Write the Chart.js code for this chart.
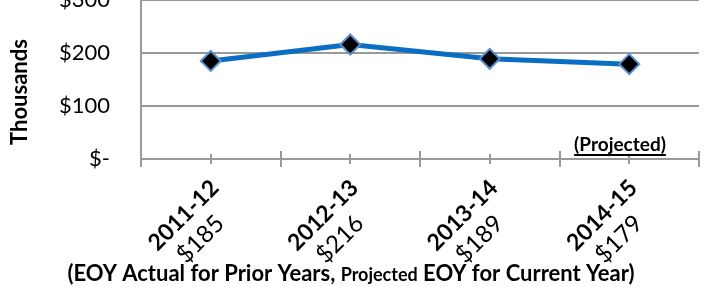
<!DOCTYPE html>
<html>
<head>
<meta charset="utf-8">
<script src="https://cdn.jsdelivr.net/npm/chart.js@4.4.1/dist/chart.umd.min.js"></script>
<style>
    html, body { margin: 0; padding: 0; background: #fff; overflow: hidden; }
    /* chart sits a little above the window so the $300 label is cut like the original */
    #wrap { position: relative; top: -20px; width: 711px; height: 307px; }
</style>
</head>
<body>
<div id="wrap"><canvas id="eoyChart"></canvas></div>
<script>
// ============= Data =============
const years = ['2011-12', '2012-13', '2013-14', '2014-15'];
const totals = [185, 216, 189, 179];            // thousands of $
const valueLabels = ['$185', '$216', '$189', '$179'];
const yMax = 300;
const yStep = 100;

const FONT = 'Lato, "Open Sans", sans-serif';
const AXIS_GREY = '#999999';

// Draws the things Chart.js can't do out of the box:
// crossing tick marks, two-style rotated labels, axis titles, "(Projected)"
const overlayPlugin = {
    id: 'overlay',
    afterDraw(chart) {
        const ctx = chart.ctx;
        const x = chart.scales.x;
        const area = chart.chartArea;
        const axisY = area.bottom;
        const step = x.getPixelForValue(1) - x.getPixelForValue(0);

        ctx.save();

        // tick marks crossing the category axis
        ctx.strokeStyle = AXIS_GREY;
        ctx.lineWidth = 2;
        const tick = (px, len) => {
            ctx.beginPath();
            ctx.moveTo(Math.round(px), axisY - len);
            ctx.lineTo(Math.round(px), axisY + len);
            ctx.stroke();
        };
        years.forEach((_, i) => {
            const c = x.getPixelForValue(i);
            tick(c - step / 2, 8);
            tick(c, 5);
            if (i === years.length - 1) tick(c + step / 2, 8);
        });

        // rotated category labels: year (bold) over value (regular)
        ctx.fillStyle = '#000';
        ctx.textAlign = 'center';
        ctx.textBaseline = 'alphabetic';
        years.forEach((label, i) => {
            const c = x.getPixelForValue(i);
            ctx.save();
            ctx.translate(c - 27.5, axisY + 56);
            ctx.rotate(-Math.PI / 4);
            ctx.font = 'bold 23px ' + FONT;
            ctx.fillText(label, 0, 8);
            ctx.font = '24px ' + FONT;
            ctx.fillText(valueLabels[i], -5, 37);
            ctx.restore();
        });

        // y axis title
        ctx.save();
        ctx.translate(27, area.top + 92);
        ctx.rotate(-Math.PI / 2);
        ctx.font = 'bold 22px ' + FONT;
        ctx.fillText('Thousands', 0, 0);
        ctx.restore();

        // (Projected) note, underlined
        ctx.font = 'bold 19px ' + FONT;
        const note = '(Projected)';
        const nw = ctx.measureText(note).width;
        const nx = area.right - 79 - nw / 2;
        const ny = axisY - 8;
        ctx.textAlign = 'left';
        ctx.fillText(note, nx, ny);
        ctx.fillRect(nx, ny + 3, nw, 2);

        // x axis title, "Projected" set smaller
        const parts = [
            ['(EOY Actual for Prior Years, ', 'bold 22px ' + FONT],
            ['Projected', 'bold 18px ' + FONT],
            [' EOY for Current Year)', 'bold 22px ' + FONT]
        ];
        const widths = parts.map(p => { ctx.font = p[1]; return ctx.measureText(p[0]).width; });
        const total = widths.reduce((a, b) => a + b, 0);
        let tx = 351 - total / 2;
        const ty = axisY + 122;
        parts.forEach((p, i) => {
            ctx.font = p[1];
            ctx.fillText(p[0], tx, ty);
            tx += widths[i];
        });

        ctx.restore();
    }
};

new Chart(document.getElementById('eoyChart'), {
    type: 'line',
    data: {
        labels: years,
        datasets: [{
            data: totals,
            borderColor: '#0A6FC2',
            borderWidth: 5,
            tension: 0,
            pointStyle: 'rectRot',
            pointRadius: 10,
            pointHoverRadius: 10,
            pointBackgroundColor: '#000',
            pointBorderColor: '#5B8FCF',
            pointBorderWidth: 2
        }]
    },
    options: {
        responsive: true,
        maintainAspectRatio: false,
        animation: false,
        layout: { padding: { top: 20, right: 10, bottom: 0, left: 0 } },
        plugins: { legend: { display: false }, tooltip: { enabled: false } },
        scales: {
            x: {
                type: 'category',
                offset: true,
                grid: { display: false },
                ticks: { display: false },
                border: { color: AXIS_GREY, width: 2 },
                afterFit(s) { s.height = 128; }
            },
            y: {
                min: 0,
                max: yMax,
                ticks: {
                    stepSize: yStep,
                    padding: 31,
                    color: '#000',
                    font: { family: FONT, size: 22 },
                    callback: v => v === 0 ? '$-' : '$' + v
                },
                grid: { color: AXIS_GREY, lineWidth: 2, drawTicks: false },
                border: { color: AXIS_GREY, width: 2 },
                afterFit(s) {
                    s.width = 141;
                    // let the top label run off the page instead of shrinking the plot
                    s.paddingTop = 0;
                    s.paddingBottom = 0;
                }
            }
        }
    },
    plugins: [overlayPlugin]
});
</script>
</body>
</html>
